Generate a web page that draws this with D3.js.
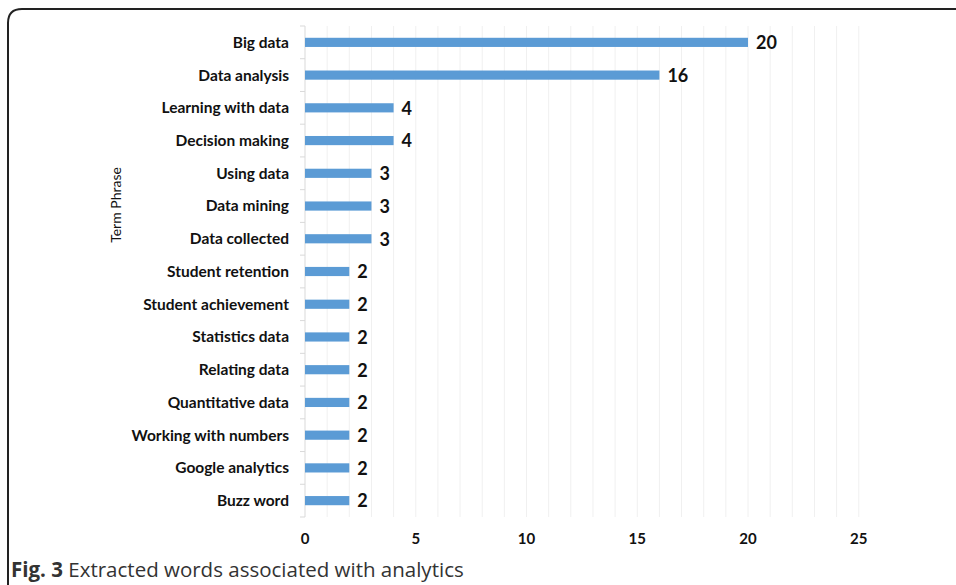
<!DOCTYPE html>
<html>
<head>
<meta charset="utf-8">
<script src="https://cdn.jsdelivr.net/npm/d3@7"></script>
<style>
  body { margin: 0; background: #fff; }
  svg { display: block; }
</style>
</head>
<body>
<svg id="chart"></svg>
<script>
const terms = ['Big data', 'Data analysis', 'Learning with data', 'Decision making', 'Using data',
    'Data mining', 'Data collected', 'Student retention', 'Student achievement', 'Statistics data',
    'Relating data', 'Quantitative data', 'Working with numbers', 'Google analytics', 'Buzz word']
const counts = [20, 16, 4, 4, 3, 3, 3, 2, 2, 2, 2, 2, 2, 2, 2]
const xTicks = [0, 5, 10, 15, 20, 25]

const fullWidth = 956
const fullHeight = 585
const margin = { top: 26, left: 305, right: 97, bottom: 68 }
const width = fullWidth - margin.left - margin.right
const height = fullHeight - margin.top - margin.bottom

const font = 'Lato, "Open Sans", sans-serif'

const svg = d3.select('#chart')
    .attr('width', fullWidth)
    .attr('height', fullHeight)

// frame around the figure
svg.append('path')
    .attr('d', 'M 8 600 L 8 23 Q 8 9 22 9 L 970 9')
    .attr('fill', 'none')
    .attr('stroke', '#222')
    .attr('stroke-width', 2)

const g = svg.append('g')
    .attr('transform', `translate(${margin.left}, ${margin.top})`)

const xScale = d3.scaleLinear()
    .domain([0, 25])
    .range([0, 25 * 22.15])

const yScale = d3.scaleBand()
    .domain(terms)
    .range([0, height])
    .paddingInner(0.72)
    .paddingOuter(0.36)

// gridlines at every unit
g.append('g')
    .selectAll('line')
    .data(d3.range(1, 26))
    .enter().append('line')
        .attr('x1', d => xScale(d))
        .attr('x2', d => xScale(d))
        .attr('y1', 0)
        .attr('y2', height)
        .attr('stroke', '#f0f0f0')
        .attr('stroke-width', 1)

// category axis with ticks between bands
const step = yScale.step()
g.append('line')
    .attr('x1', 0).attr('x2', 0)
    .attr('y1', 0).attr('y2', height)
    .attr('stroke', '#d9d9d9')
g.append('g')
    .selectAll('line')
    .data(d3.range(terms.length + 1))
    .enter().append('line')
        .attr('x1', -5).attr('x2', 0)
        .attr('y1', i => i * step)
        .attr('y2', i => i * step)
        .attr('stroke', '#d9d9d9')

g.append('g')
    .selectAll('text')
    .data(terms)
    .enter().append('text')
        .attr('x', -16)
        .attr('y', d => yScale(d) + yScale.bandwidth() / 2)
        .attr('dy', '0.35em')
        .attr('text-anchor', 'end')
        .attr('font-family', font)
        .attr('font-weight', 'bold')
        .attr('font-size', '15.5px')
        .attr('fill', '#111')
        .text(d => d)

// bars
g.append('g')
    .selectAll('rect')
    .data(counts)
    .enter().append('rect')
        .attr('x', 0)
        .attr('y', (d, i) => yScale(terms[i]))
        .attr('width', d => xScale(d))
        .attr('height', yScale.bandwidth())
        .attr('fill', '#5b9bd5')

// value labels
g.append('g')
    .selectAll('text')
    .data(counts)
    .enter().append('text')
        .attr('x', d => xScale(d) + 8)
        .attr('y', (d, i) => yScale(terms[i]) + yScale.bandwidth() / 2)
        .attr('dy', '0.38em')
        .attr('font-family', font)
        .attr('font-weight', 'bold')
        .attr('font-size', '18px')
        .attr('fill', '#111')
        .text(d => d)

// x tick labels
g.append('g')
    .selectAll('text')
    .data(xTicks)
    .enter().append('text')
        .attr('x', d => xScale(d))
        .attr('y', height + 22)
        .attr('dy', '0.35em')
        .attr('text-anchor', 'middle')
        .attr('font-family', font)
        .attr('font-weight', 'bold')
        .attr('font-size', '15px')
        .attr('fill', '#111')
        .text(d => d)

// axis title
svg.append('text')
    .attr('transform', 'translate(116, 205) rotate(-90)')
    .attr('dy', '0.35em')
    .attr('text-anchor', 'middle')
    .attr('font-family', font)
    .attr('font-size', '14px')
    .attr('fill', '#111')
    .text('Term Phrase')

// caption
const caption = svg.append('text')
    .attr('x', 11)
    .attr('y', 577)
    .attr('font-family', '"Open Sans", sans-serif')
    .attr('font-size', '20.5px')
    .attr('fill', '#333')
caption.append('tspan').attr('font-weight', 'bold').text('Fig. 3')
caption.append('tspan').text(' Extracted words associated with analytics')
</script>
</body>
</html>
